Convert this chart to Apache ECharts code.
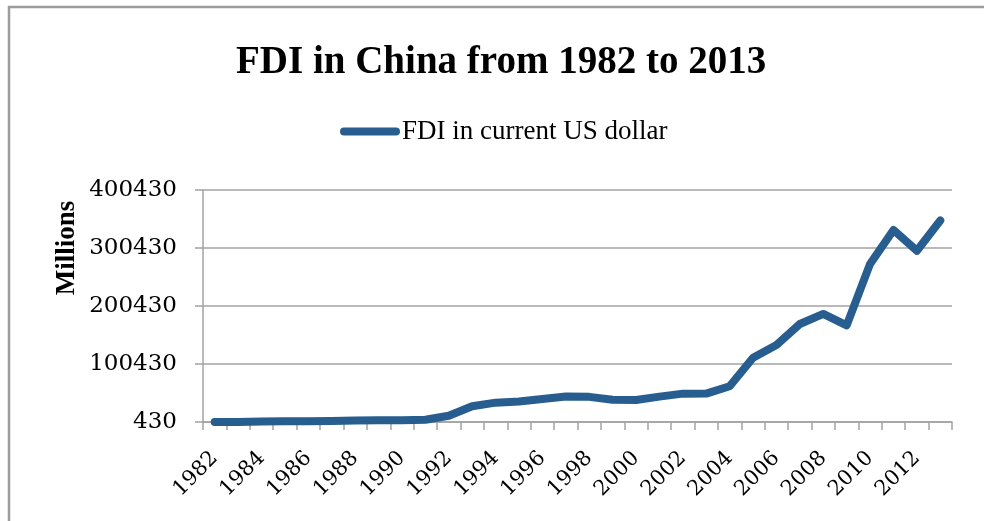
<!DOCTYPE html>
<html>
<head>
<meta charset="utf-8">
<script src="https://cdn.jsdelivr.net/npm/echarts@6/dist/echarts.min.js"></script>
<style>html,body{margin:0;padding:0;background:#fff}#c{width:984px;height:521px}</style>
</head>
<body>
<div id="c"></div>
<script>
var years = ['1982','1983','1984','1985','1986','1987','1988','1989','1990','1991','1992','1993','1994','1995','1996','1997','1998','1999','2000','2001','2002','2003','2004','2005','2006','2007','2008','2009','2010','2011','2012','2013'];
var fdi = [430,636,1258,1659,1875,2314,3194,3393,3487,4366,11156,27515,33787,35849,40180,44237,43751,38753,38399,44241,49308,49456,62108,111210,133272,169389,186802,167071,272987,331591,295626,347849];
var yTicks = [430,100430,200430,300430,400430];
var titleText = 'FDI in China from 1982 to 2013';
var seriesName = 'FDI in current US dollar';
var yName = 'Millions';

var chart = echarts.init(document.getElementById('c'), null, {renderer:'canvas'});
var grayLine = '#a3a3a3';
chart.setOption({
  animation: false,
  backgroundColor: '#ffffff',
  title: {
    text: titleText,
    left: 231,
    top: 38,
    textStyle: {fontFamily: 'Liberation Serif', fontWeight: 'bold', fontSize: 39, color: '#000'}
  },
  legend: {
    data: [seriesName],
    left: 335,
    top: 113,
    itemWidth: 60,
    itemHeight: 9,
    itemGap: 10,
    icon: 'path://M4,0 L56,0 A4,4 0 0 1 56,8 L4,8 A4,4 0 0 1 4,0 Z',
    textStyle: {fontFamily: 'Liberation Serif', fontSize: 27, color: '#000', padding: [0,0,0,-3]}
  },
  graphic: [
    {type: 'rect', silent: true, shape: {x: 9, y: 7, width: 1100, height: 700},
     style: {fill: 'none', stroke: '#9d9d9d', lineWidth: 2.5}},
    {type: 'text', silent: true, x: 67, y: 248, rotation: Math.PI / 2,
     style: {text: yName, fontFamily: 'Liberation Serif', fontWeight: 'bold', fontSize: 27,
             fill: '#000', align: 'center', verticalAlign: 'middle'}}
  ],
  grid: {left: 203, right: 32, top: 190, bottom: 99, containLabel: false},
  xAxis: {
    type: 'category',
    data: years,
    boundaryGap: true,
    axisLine: {lineStyle: {color: grayLine, width: 1.5}},
    axisTick: {show: true, alignWithLabel: false, interval: 0, length: 8, lineStyle: {color: grayLine, width: 1.5}},
    axisLabel: {interval: 1, rotate: 45, margin: 33, fontFamily: 'DejaVu Serif', fontSize: 21, color: '#000'},
    splitLine: {show: false}
  },
  yAxis: {
    type: 'value',
    min: yTicks[0],
    max: yTicks[yTicks.length - 1],
    interval: yTicks[1] - yTicks[0],
    axisLine: {show: true, lineStyle: {color: grayLine, width: 1.5}},
    axisTick: {show: true, length: 8, lineStyle: {color: grayLine, width: 1.5}},
    axisLabel: {margin: 26, fontFamily: 'DejaVu Serif', fontSize: 23, color: '#000',
                formatter: function (v) { return String(Math.round(v)); }},
    splitLine: {show: true, lineStyle: {color: grayLine, width: 1.5}}
  },
  series: [{
    name: seriesName,
    type: 'line',
    data: fdi,
    showSymbol: false,
    symbol: 'none',
    lineStyle: {color: '#275d8f', width: 8, cap: 'round', join: 'round'},
    itemStyle: {color: '#275d8f'}
  }]
});
</script>
</body>
</html>
